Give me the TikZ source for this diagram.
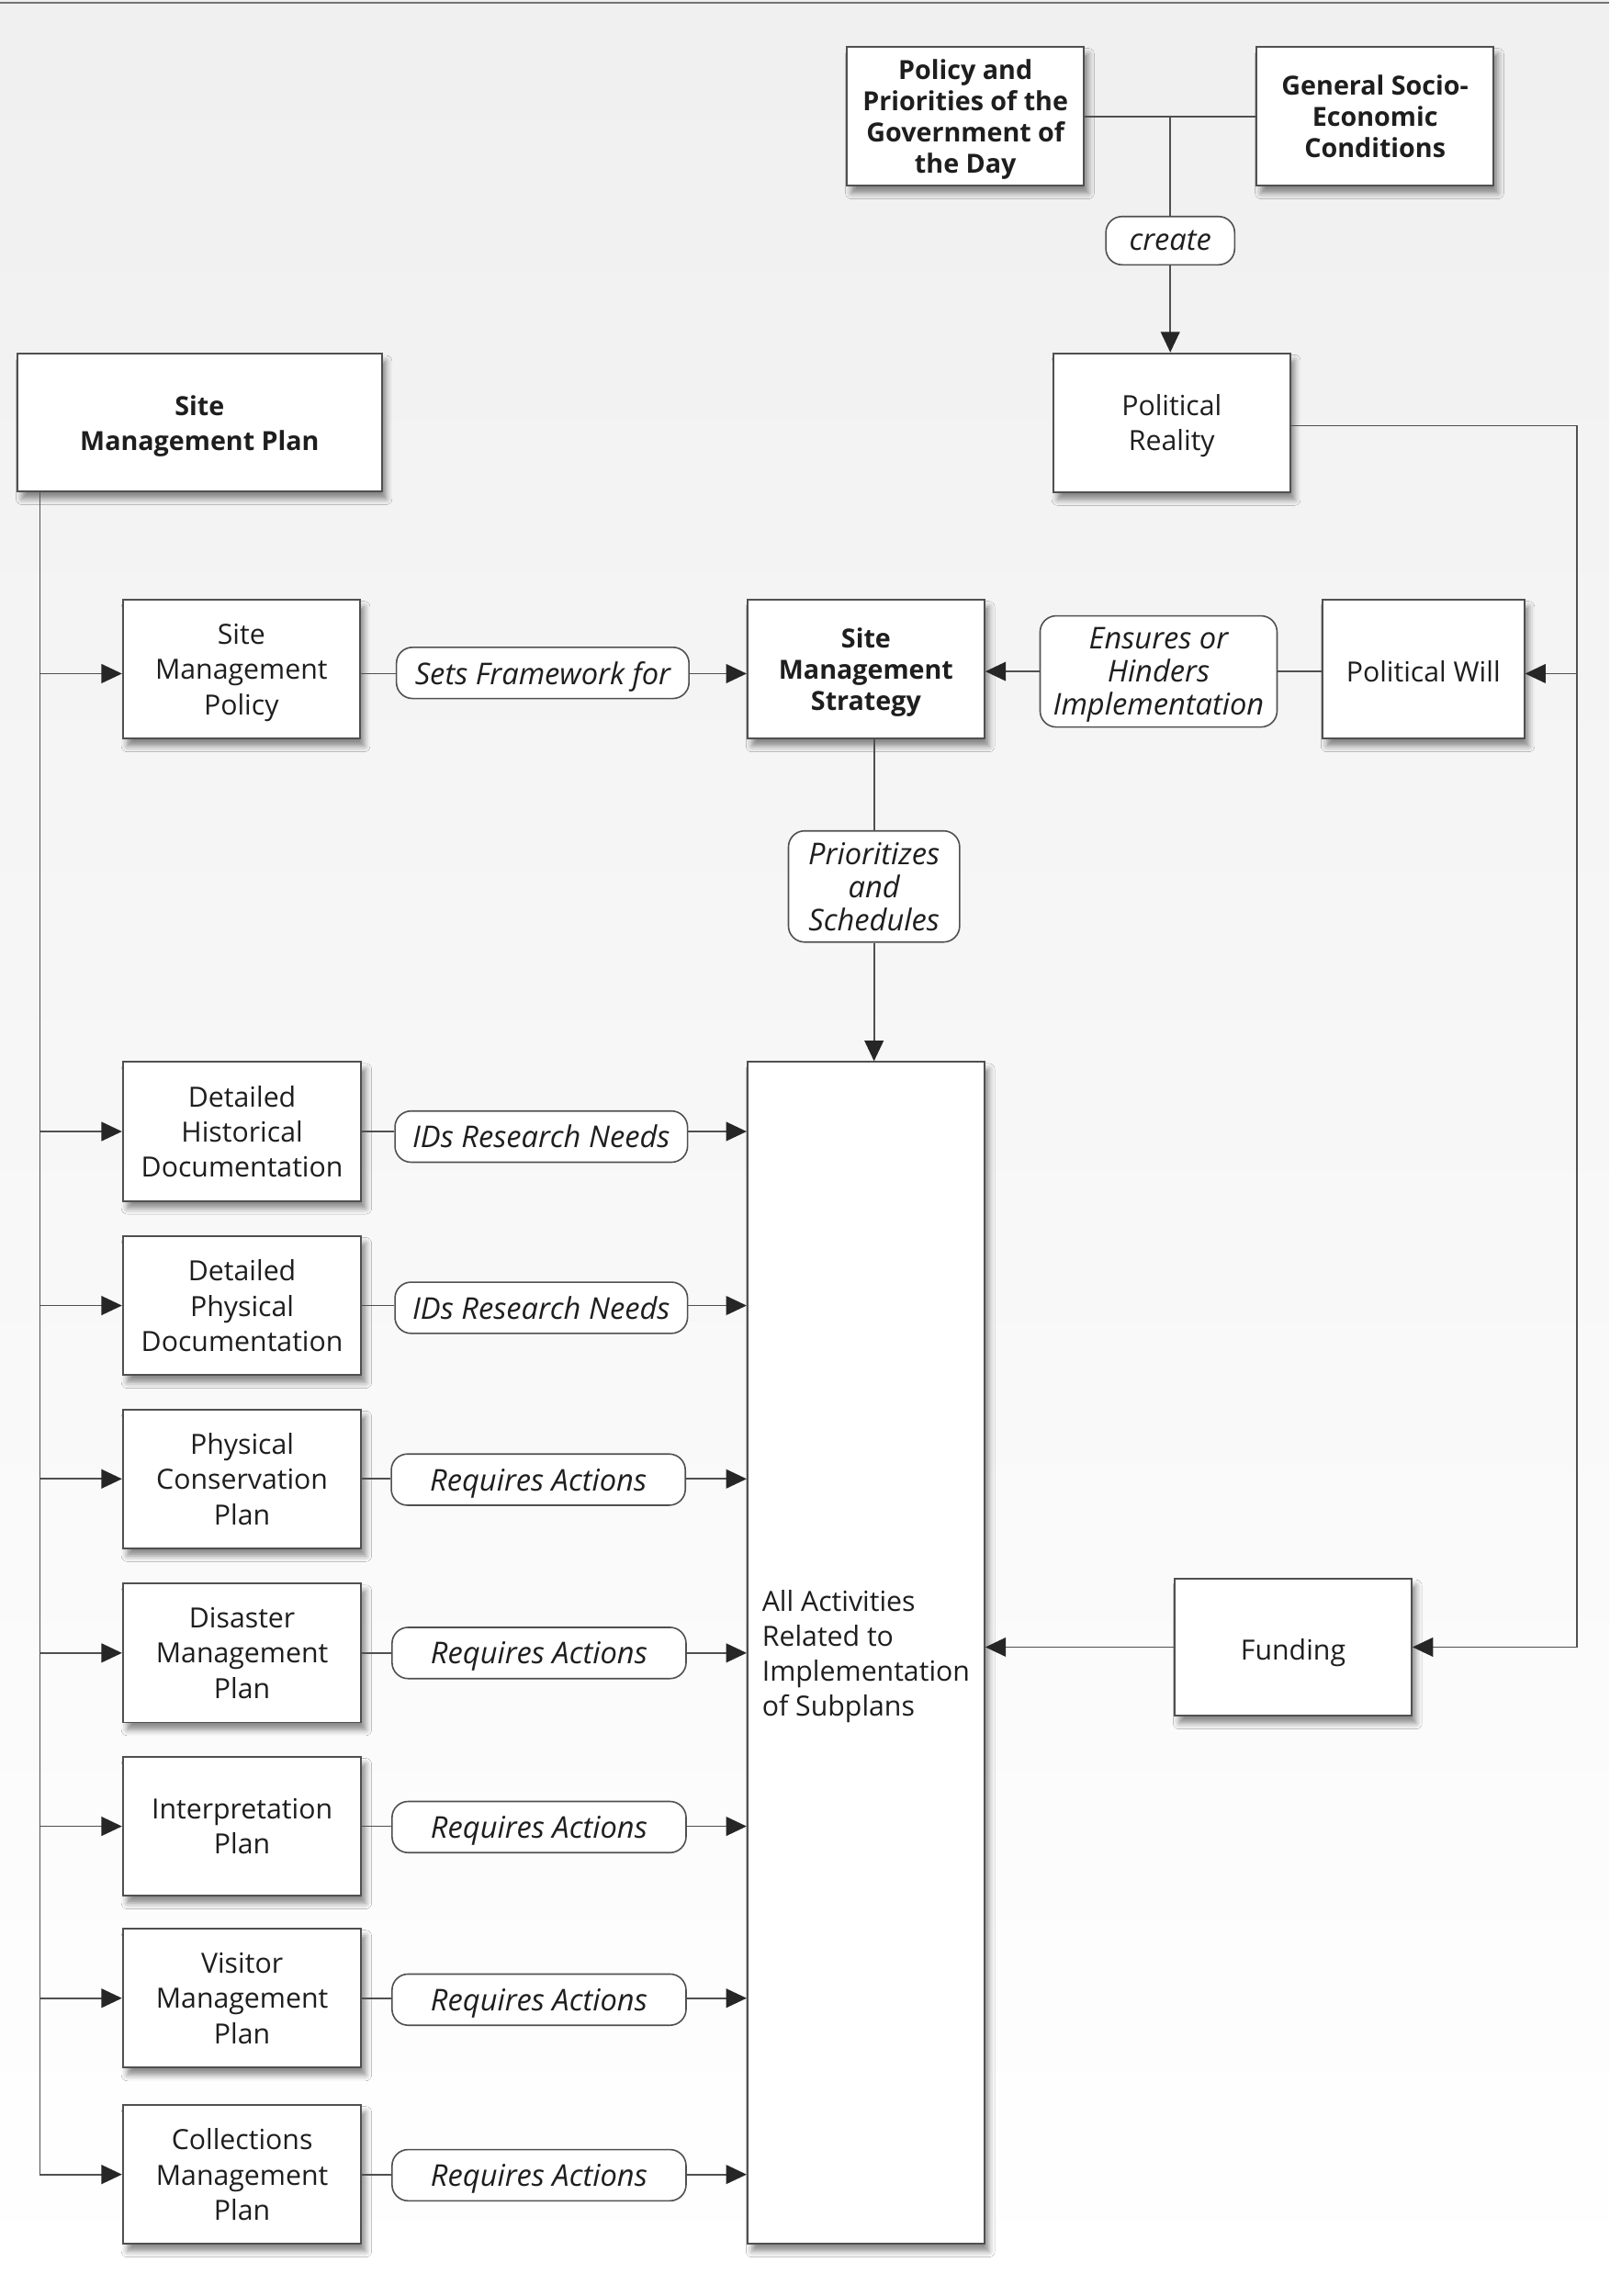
\documentclass[tikz,border=0pt]{standalone}
\usepackage{fontspec}
\setmainfont{Open Sans}
\usetikzlibrary{arrows.meta,shadows.blur,calc}
\definecolor{edgec}{HTML}{505050}
\definecolor{txtc}{HTML}{1E1E1E}
\tikzset{
  box/.style={draw=edgec, line width=1.25pt, fill=white, minimum width=162pt, minimum height=95pt,
    inner sep=2pt, align=center, text=txtc, font=\fontsize{19}{24}\selectfont, text depth=0pt,
    execute at begin node={\rule{0pt}{17.5pt}},
    blur shadow={shadow xshift=3pt, shadow yshift=-5pt, shadow blur radius=4pt, shadow opacity=45}},
  boldbox/.style={box, font=\fontsize{18}{21.5}\selectfont\bfseries,
    execute at begin node={\rule{0pt}{16.8pt}}},
  lbl/.style={draw=edgec, line width=1pt, fill=white, rounded corners=11pt, align=center, text=txtc,
    font=\fontsize{20.5}{22.5}\selectfont\itshape, inner sep=1pt, text depth=0pt},
  conn/.style={draw=edgec, line width=1.1pt},
  arr/.style={conn, -{Triangle[length=14pt,width=13pt,color=black!85]}}
}
\begin{document}
\begin{tikzpicture}[x=1pt,y=-1pt]
\useasboundingbox (0,0) rectangle (1100,1569.6);
\shade[top color=black!6, middle color=black!4, bottom color=white] (0,0) rectangle (1100,1569.6);
\draw[draw=black!55, line width=1.5pt] (0,2) -- (1100,2);

% top
\node[boldbox] (pol) at (660,79.5) {Policy and\\Priorities of the\\Government of\\the Day};
\node[boldbox] (gen) at (940,79.5) {General Socio-\\Economic\\Conditions};
\node[lbl, minimum width=88pt, minimum height=33pt] (create) at (800,164.5) {create};
\node[box] (reality) at (801,289) {Political\\Reality};

% left plan
\node[boldbox, minimum width=249pt, minimum height=94pt, font=\fontsize{18}{24}\selectfont\bfseries] (smp) at (136.5,289) {Site\\Management Plan};
\node[box] (smpol) at (165,457.5) {Site\\Management\\Policy};
\node[lbl, minimum width=200pt, minimum height=35pt] (sets) at (371,460) {Sets Framework for};
\node[boldbox] (strat) at (592,457.5) {Site\\Management\\Strategy};
\node[lbl, minimum width=162pt, minimum height=76pt] (ens) at (792,459) {Ensures or\\Hinders\\Implementation};
\node[box, minimum width=138pt] (will) at (973,457.5) {Political Will};
\node[lbl, minimum width=117pt, minimum height=76pt] (prior) at (597.5,606) {Prioritizes\\and\\Schedules};

\node[box, minimum height=808pt, align=left] (act) at (592,1130) {All Activities\\Related to\\Implementation\\of Subplans};
\node[box, minimum height=94pt] (fund) at (884,1126) {Funding};

% subplans
\node[box, minimum width=163pt] (dhd) at (165.5,773.5) {Detailed\\Historical\\Documentation};
\node[box, minimum width=163pt] (dpd) at (165.5,892.5) {Detailed\\Physical\\Documentation};
\node[box, minimum width=163pt] (pcp) at (165.5,1011) {Physical\\Conservation\\Plan};
\node[box, minimum width=163pt] (dmp) at (165.5,1130) {Disaster\\Management\\Plan};
\node[box, minimum width=163pt] (ip) at (165.5,1248.5) {Interpretation\\Plan};
\node[box, minimum width=163pt] (vmp) at (165.5,1366) {Visitor\\Management\\Plan};
\node[box, minimum width=163pt] (cmp) at (165.5,1486.5) {Collections\\Management\\Plan};

\node[lbl, minimum width=200pt, minimum height=35pt] (l1) at (370,777) {IDs Research Needs};
\node[lbl, minimum width=200pt, minimum height=35pt] (l2) at (370,894) {IDs Research Needs};
\node[lbl, minimum width=201pt, minimum height=35pt] (l3) at (368,1011.5) {Requires Actions};
\node[lbl, minimum width=201pt, minimum height=35pt] (l4) at (368.5,1130) {Requires Actions};
\node[lbl, minimum width=201pt, minimum height=35pt] (l5) at (368.5,1249) {Requires Actions};
\node[lbl, minimum width=201pt, minimum height=35pt] (l6) at (368.5,1367) {Requires Actions};
\node[lbl, minimum width=201pt, minimum height=35pt] (l7) at (368.5,1487) {Requires Actions};

% connectors top
\coordinate (jn) at (create.north |- pol.east);
\draw[conn] (pol.east) -- (gen.west);
\draw[conn] (jn) -- (create.north);
\draw[arr] (create.south) -- (create.south |- reality.north);

% right loop
\coordinate (rx) at (1078,0);
\coordinate (rtop) at ($(reality.east)+(0,2)$);
\coordinate (wl) at ($(will.east)+(0,3)$);
\draw[arr] (rtop) -| (rx |- fund.east) -- (fund.east);
\draw[arr] (rx |- wl) -- (wl);
\draw[arr] (fund.west) -- (fund.west -| act.east);

% middle row
\coordinate (pl) at ($(smpol.east)+(0,3)$);
\coordinate (el) at ($(will.west)+(0,1.5)$);
\draw[conn] (pl) -- (pl -| sets.west);
\draw[arr] (sets.east |- pl) -- (pl -| strat.west);
\draw[conn] (el) -- (el -| ens.east);
\draw[arr] (ens.west |- el) -- (el -| strat.east);
\draw[conn] (strat.south -| prior.north) -- (prior.north);
\draw[arr] (prior.south) -- (prior.south |- act.north);

% spine
\coordinate (sp) at ($(smp.south west)+(16,0)$);
\draw[arr] (sp) |- (cmp.west);
\draw[arr] (sp |- pl) -- (pl -| smpol.west);
\foreach \b in {dhd,dpd,pcp,dmp,ip,vmp}{
  \draw[arr] (sp |- \b.west) -- (\b.west);
}
\foreach \b/\l in {dhd/l1,dpd/l2,pcp/l3,dmp/l4,ip/l5,vmp/l6,cmp/l7}{
  \draw[conn] (\b.east) -- (\b.east -| \l.west);
  \draw[arr] (\l.east |- \b.east) -- (\b.east -| act.west);
}
\end{tikzpicture}
\end{document}
